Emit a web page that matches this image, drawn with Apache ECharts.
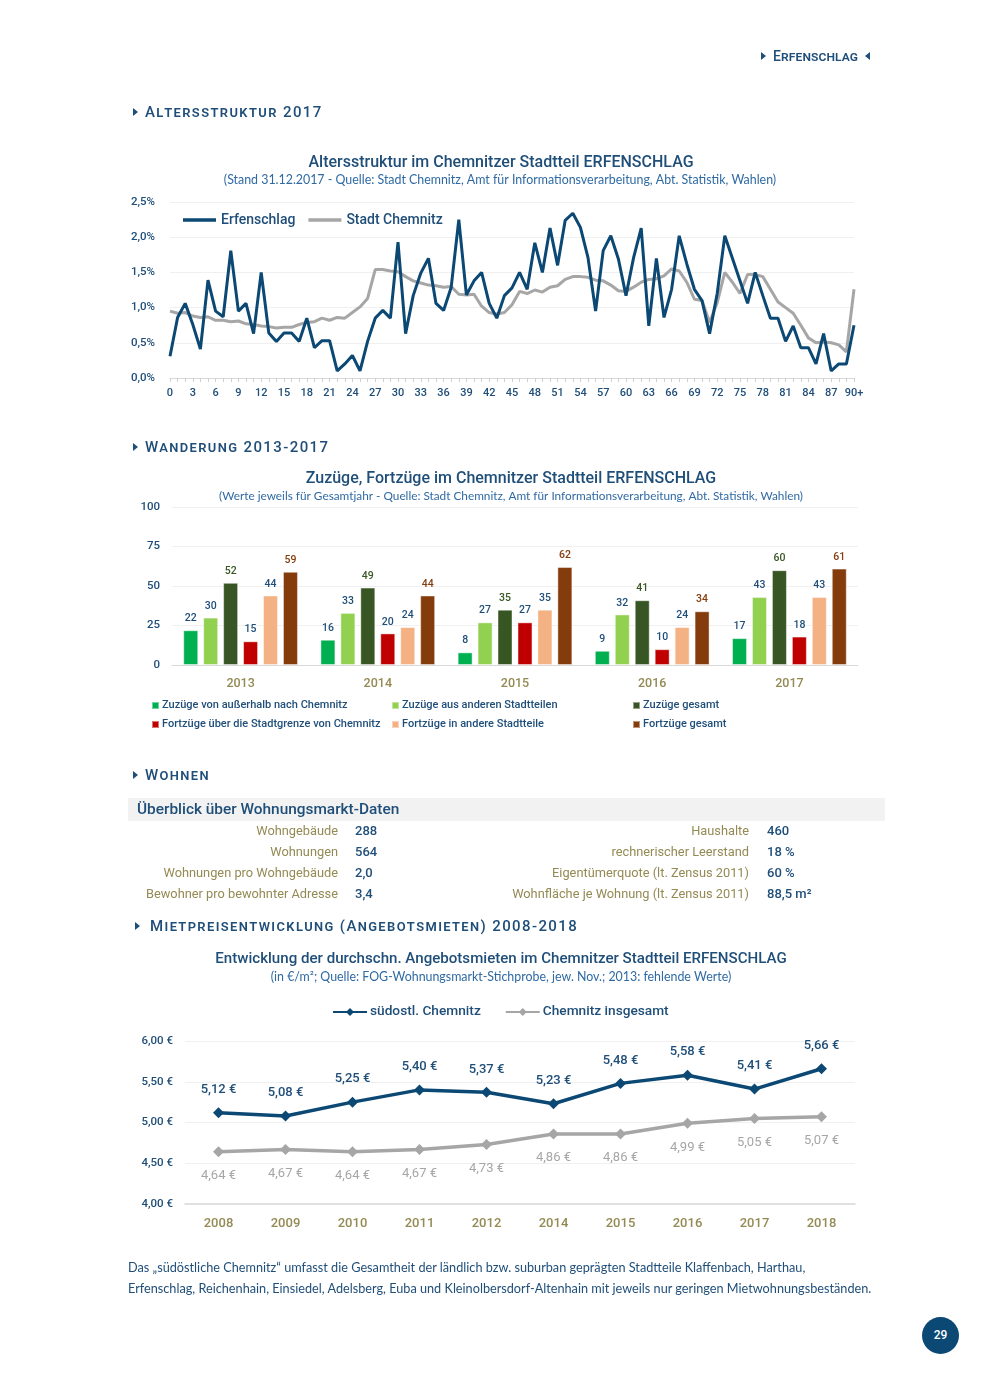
<!DOCTYPE html>
<html><head><meta charset="utf-8">
<script src="https://cdn.jsdelivr.net/npm/echarts/dist/echarts.min.js"></script>
<style>
html,body{margin:0;padding:0;background:#fff;}
body{width:990px;height:1389px;position:relative;overflow:hidden;}
#chart{position:absolute;left:0;top:0;width:990px;height:1389px;}
.t{position:absolute;white-space:nowrap;}
.sec{font-family:Roboto,sans-serif;font-variant:small-caps;color:#1f4e79;letter-spacing:1.4px;font-size:15px;font-weight:500;line-height:20px;}
.tri{display:inline-block;width:0;height:0;border-top:4.5px solid transparent;border-bottom:4.5px solid transparent;border-left:5px solid #1f4e79;margin-right:7px;vertical-align:1px;}
.tril{display:inline-block;width:0;height:0;border-top:4.5px solid transparent;border-bottom:4.5px solid transparent;border-right:5px solid #1f4e79;margin-left:7px;vertical-align:1px;}
.lab{font-family:Roboto,sans-serif;font-size:12.8px;color:#948a54;text-align:right;line-height:16px;}
.val{font-family:Roboto,sans-serif;font-size:13px;color:#1f4e79;font-weight:500;line-height:16px;}
.foot{font-family:Lato,sans-serif;font-size:12.7px;color:#1f4e79;line-height:21px;}
</style></head>
<body>
<div id="chart"></div>

<div class="t sec" style="left:761px;top:46px;font-size:14px;letter-spacing:0.1px;"><span class="tri"></span>Erfenschlag<span class="tril"></span></div>
<div class="t sec" style="left:133px;top:102px;"><span class="tri"></span>Altersstruktur 2017</div>
<div class="t sec" style="left:133px;top:437px;"><span class="tri"></span>Wanderung 2013-2017</div>
<div class="t sec" style="left:133px;top:765px;"><span class="tri"></span>Wohnen</div>
<div class="t sec" style="left:135px;top:916px;"><span class="tri" style="margin-right:10px;"></span>Mietpreisentwicklung (Angebotsmieten) 2008-2018</div>

<div class="t" style="left:128px;top:798px;width:757px;height:23px;background:#f2f2f2;"></div>
<div class="t" style="left:137px;top:800px;font-family:Roboto,sans-serif;font-size:15.4px;font-weight:500;color:#1f4e79;line-height:19px;">Überblick über Wohnungsmarkt-Daten</div>
<div id="table"></div>

<div class="t foot" style="left:128px;top:1257px;">Das „südöstliche Chemnitz“ umfasst die Gesamtheit der ländlich bzw. suburban geprägten Stadtteile Klaffenbach, Harthau,<br>Erfenschlag, Reichenhain, Einsiedel, Adelsberg, Euba und Kleinolbersdorf-Altenhain mit jeweils nur geringen Mietwohnungsbeständen.</div>

<div class="t" style="left:922px;top:1317px;width:37px;height:37px;border-radius:50%;background:#0b4874;color:#fff;font-family:Roboto,sans-serif;font-size:12px;font-weight:500;text-align:center;line-height:37px;">29</div>

<script>
// ---------- Altersstruktur ----------
const ageLabels = ['0','1','2','3','4','5','6','7','8','9','10','11','12','13','14','15','16','17','18','19','20','21','22','23','24','25','26','27','28','29','30','31','32','33','34','35','36','37','38','39','40','41','42','43','44','45','46','47','48','49','50','51','52','53','54','55','56','57','58','59','60','61','62','63','64','65','66','67','68','69','70','71','72','73','74','75','76','77','78','79','80','81','82','83','84','85','86','87','88','89','90+'];
const erfenschlag = [0.31,0.86,1.06,0.76,0.41,1.39,0.95,0.87,1.81,0.95,1.06,0.63,1.50,0.64,0.52,0.64,0.64,0.52,0.85,0.43,0.53,0.53,0.10,0.20,0.32,0.10,0.52,0.85,0.96,0.85,1.93,0.63,1.17,1.49,1.70,1.06,0.96,1.29,2.25,1.18,1.38,1.50,1.06,0.85,1.17,1.28,1.50,1.26,1.92,1.50,2.13,1.60,2.24,2.34,2.14,1.71,0.95,1.81,2.02,1.69,1.17,1.71,2.13,0.74,1.70,0.86,1.26,2.02,1.62,1.26,1.10,0.63,1.20,2.02,1.70,1.38,1.06,1.50,1.17,0.85,0.85,0.52,0.74,0.43,0.43,0.20,0.63,0.10,0.20,0.20,0.75];
const stadtChemnitz = [0.95,0.92,0.93,0.88,0.86,0.87,0.82,0.82,0.80,0.81,0.77,0.76,0.74,0.73,0.71,0.72,0.72,0.76,0.79,0.80,0.85,0.82,0.86,0.85,0.93,1.01,1.13,1.54,1.54,1.52,1.51,1.44,1.38,1.35,1.32,1.31,1.29,1.30,1.19,1.18,1.19,1.02,0.93,0.91,0.93,1.04,1.23,1.20,1.25,1.22,1.29,1.31,1.40,1.44,1.44,1.43,1.39,1.38,1.32,1.24,1.23,1.29,1.36,1.40,1.41,1.45,1.55,1.52,1.36,1.12,1.10,0.79,1.07,1.50,1.36,1.20,1.47,1.47,1.44,1.26,1.08,1.00,0.92,0.75,0.57,0.50,0.51,0.50,0.47,0.37,1.26];

// ---------- Wanderung ----------
const years = ['2013','2014','2015','2016','2017'];
const zuzuegeAussen = [22,16,8,9,17];
const zuzuegeStadtteile = [30,33,27,32,43];
const zuzuegeGesamt = [52,49,35,41,60];
const fortzuegeAussen = [15,20,27,10,18];
const fortzuegeStadtteile = [44,24,35,24,43];
const fortzuegeGesamt = [59,44,62,34,61];
const migrationNames = ['Zuzüge von außerhalb nach Chemnitz','Zuzüge aus anderen Stadtteilen','Zuzüge gesamt','Fortzüge über die Stadtgrenze von Chemnitz','Fortzüge in andere Stadtteile','Fortzüge gesamt'];

// ---------- Wohnen ----------
const wohnLeftLabels = ['Wohngebäude','Wohnungen','Wohnungen pro Wohngebäude','Bewohner pro bewohnter Adresse'];
const wohnLeftValues = ['288','564','2,0','3,4'];
const wohnRightLabels = ['Haushalte','rechnerischer Leerstand','Eigentümerquote (lt. Zensus 2011)','Wohnfläche je Wohnung (lt. Zensus 2011)'];
const wohnRightValues = ['460','18 %','60 %','88,5 m²'];

// ---------- Mietpreise ----------
const rentYears = ['2008','2009','2010','2011','2012','2014','2015','2016','2017','2018'];
const rentSuedost = [5.12,5.08,5.25,5.40,5.37,5.23,5.48,5.58,5.41,5.66];
const rentChemnitz = [4.64,4.67,4.64,4.67,4.73,4.86,4.86,4.99,5.05,5.07];

// table
(function(){
  const tb = document.getElementById('table');
  let h = '';
  const ys = [823,844,865,886];
  for (let i=0;i<4;i++){
    h += '<div class="t lab" style="right:'+(990-338)+'px;top:'+ys[i]+'px;">'+wohnLeftLabels[i]+'</div>';
    h += '<div class="t val" style="left:355px;top:'+ys[i]+'px;">'+wohnLeftValues[i]+'</div>';
    h += '<div class="t lab" style="right:'+(990-749)+'px;top:'+ys[i]+'px;">'+wohnRightLabels[i]+'</div>';
    h += '<div class="t val" style="left:767px;top:'+ys[i]+'px;">'+wohnRightValues[i]+'</div>';
  }
  tb.innerHTML = h;
})();

const DIN = 'Roboto';
const BLUE = '#1f4e79';
const LINEBLUE = '#0b4874';
const GRAY = '#a6a6a6';
const OLIVE = '#948a54';
const barColors = ['#00b050','#92d050','#375623','#c00000','#f4b183','#843c0c'];
const barLabelColors = [BLUE,BLUE,'#375623',BLUE,BLUE,'#843c0c'];
const barData = [zuzuegeAussen,zuzuegeStadtteile,zuzuegeGesamt,fortzuegeAussen,fortzuegeStadtteile,fortzuegeGesamt];

const chart = echarts.init(document.getElementById('chart'), null, {renderer:'canvas'});

const titleStyle = {fontFamily:DIN, fontSize:16, fontWeight:500, color:BLUE};
const subStyle = {fontFamily:'Lato', fontSize:12.4, fontWeight:'normal', color:'#2f6aa3'};

const legendPos = [[151,700],[391,700],[632,700],[151,719],[391,719],[632,719]];

const option = {
  animation:false,
  title:[
    {text:'Altersstruktur im Chemnitzer Stadtteil ERFENSCHLAG', left:496, top:150, textAlign:'center', textStyle:titleStyle},
    {text:'(Stand 31.12.2017 - Quelle: Stadt Chemnitz, Amt für Informationsverarbeitung, Abt. Statistik, Wahlen)', left:495, top:169, textAlign:'center', textStyle:subStyle},
    {text:'Zuzüge, Fortzüge im Chemnitzer Stadtteil ERFENSCHLAG', left:506, top:466, textAlign:'center', textStyle:titleStyle},
    {text:'(Werte jeweils für Gesamtjahr - Quelle: Stadt Chemnitz, Amt für Informationsverarbeitung, Abt. Statistik, Wahlen)', left:506, top:485, textAlign:'center', textStyle:Object.assign({}, subStyle, {fontSize:11.8})},
    {text:'Entwicklung der durchschn. Angebotsmieten im Chemnitzer Stadtteil ERFENSCHLAG', left:496, top:947, textAlign:'center', textStyle:Object.assign({}, titleStyle, {fontSize:15.1})},
    {text:'(in €/m²; Quelle: FOG-Wohnungsmarkt-Stichprobe, jew. Nov.; 2013: fehlende Werte)', left:496, top:966, textAlign:'center', textStyle:subStyle}
  ],
  legend:[
    {data:['Erfenschlag','Stadt Chemnitz'], left:183, top:213, padding:0, icon:'rect', itemWidth:33, itemHeight:3.5, itemGap:13,
     textStyle:{fontFamily:DIN, fontSize:14, fontWeight:500, color:BLUE}}
  ].concat(migrationNames.map(function(n,i){
    return {data:[n], left:legendPos[i][0], top:legendPos[i][1], padding:0, icon:'rect', itemWidth:7, itemHeight:7, itemGap:3,
      textStyle:{fontFamily:DIN, fontSize:11, fontWeight:500, color:BLUE, padding:[0,0,0,-2]}};
  })).concat([
    {data:['südostl. Chemnitz','Chemnitz insgesamt'], left:332, top:1005, padding:0, itemWidth:34, itemHeight:10, itemGap:24,
     textStyle:{fontFamily:DIN, fontSize:13.7, fontWeight:500, color:BLUE, padding:[0,0,0,-2]}}
  ]),
  grid:[
    {left:170, top:202, width:684, height:176},
    {left:172, top:507, width:686, height:158},
    {left:185, top:1041, width:670, height:163}
  ],
  xAxis:[
    {gridIndex:0, type:'category', data:ageLabels, boundaryGap:false,
     axisLine:{lineStyle:{color:'#d9d9d9'}},
     axisTick:{show:true, interval:0, length:4, lineStyle:{color:'#d0d0d0'}},
     axisLabel:{interval:function(i){return i%3===0;}, fontFamily:DIN, fontSize:11, fontWeight:500, color:BLUE, margin:10}},
    {gridIndex:1, type:'category', data:years,
     axisLine:{lineStyle:{color:'#d9d9d9'}}, axisTick:{show:false},
     axisLabel:{fontFamily:DIN, fontSize:12.5, fontWeight:500, color:OLIVE, margin:12}},
    {gridIndex:2, type:'category', data:rentYears,
     axisLine:{lineStyle:{color:'#d9d9d9', width:1.5}}, axisTick:{show:false},
     axisLabel:{fontFamily:DIN, fontSize:13, fontWeight:500, color:OLIVE, margin:13}}
  ],
  yAxis:[
    {gridIndex:0, type:'value', min:0, max:2.5, interval:0.5,
     splitLine:{lineStyle:{color:'#f0f0f0'}}, axisLine:{show:false}, axisTick:{show:false},
     axisLabel:{formatter:function(v){return v.toFixed(1).replace('.',',')+'%';}, fontFamily:DIN, fontSize:11.5, fontWeight:500, color:BLUE, margin:15}},
    {gridIndex:1, type:'value', min:0, max:100, interval:25,
     splitLine:{lineStyle:{color:'#f0f0f0'}}, axisLine:{show:false}, axisTick:{show:false},
     axisLabel:{fontFamily:DIN, fontSize:11.5, fontWeight:500, color:BLUE, margin:12}},
    {gridIndex:2, type:'value', min:4, max:6, interval:0.5,
     splitLine:{lineStyle:{color:'#f0f0f0'}}, axisLine:{show:false}, axisTick:{show:false},
     axisLabel:{formatter:function(v){return v.toFixed(2).replace('.',',')+' €';}, fontFamily:DIN, fontSize:11.5, fontWeight:500, color:BLUE, margin:12}}
  ],
  series:[
    {name:'Erfenschlag', type:'line', xAxisIndex:0, yAxisIndex:0, data:erfenschlag, symbol:'none', z:3,
     lineStyle:{color:LINEBLUE, width:3}, itemStyle:{color:LINEBLUE}},
    {name:'Stadt Chemnitz', type:'line', xAxisIndex:0, yAxisIndex:0, data:stadtChemnitz, symbol:'none', z:2,
     lineStyle:{color:GRAY, width:3}, itemStyle:{color:GRAY}}
  ].concat(migrationNames.map(function(n,i){
    return {name:n, type:'bar', xAxisIndex:1, yAxisIndex:1, data:barData[i], barWidth:15, barGap:'33%', barCategoryGap:'15%',
      itemStyle:{color:barColors[i], borderColor:'rgba(255,255,255,0.45)', borderWidth:1},
      label:{show:true, position:'top', distance:6, fontFamily:DIN, fontSize:10.5, fontWeight:500, color:barLabelColors[i]}};
  })).concat([
    {name:'südostl. Chemnitz', type:'line', xAxisIndex:2, yAxisIndex:2, data:rentSuedost, symbol:'diamond', symbolSize:11,
     lineStyle:{color:LINEBLUE, width:3.5}, itemStyle:{color:LINEBLUE},
     label:{show:true, position:'top', distance:11, fontFamily:DIN, fontSize:13, fontWeight:500, color:BLUE,
       formatter:function(p){return p.value.toFixed(2).replace('.',',')+' €';}}},
    {name:'Chemnitz insgesamt', type:'line', xAxisIndex:2, yAxisIndex:2, data:rentChemnitz, symbol:'diamond', symbolSize:11,
     lineStyle:{color:GRAY, width:3.5}, itemStyle:{color:GRAY},
     label:{show:true, position:'bottom', distance:12, fontFamily:DIN, fontSize:13, fontWeight:'normal', color:'#a6a6a6',
       formatter:function(p){return p.value.toFixed(2).replace('.',',')+' €';}}}
  ])
};
chart.setOption(option);
</script>
</body></html>
